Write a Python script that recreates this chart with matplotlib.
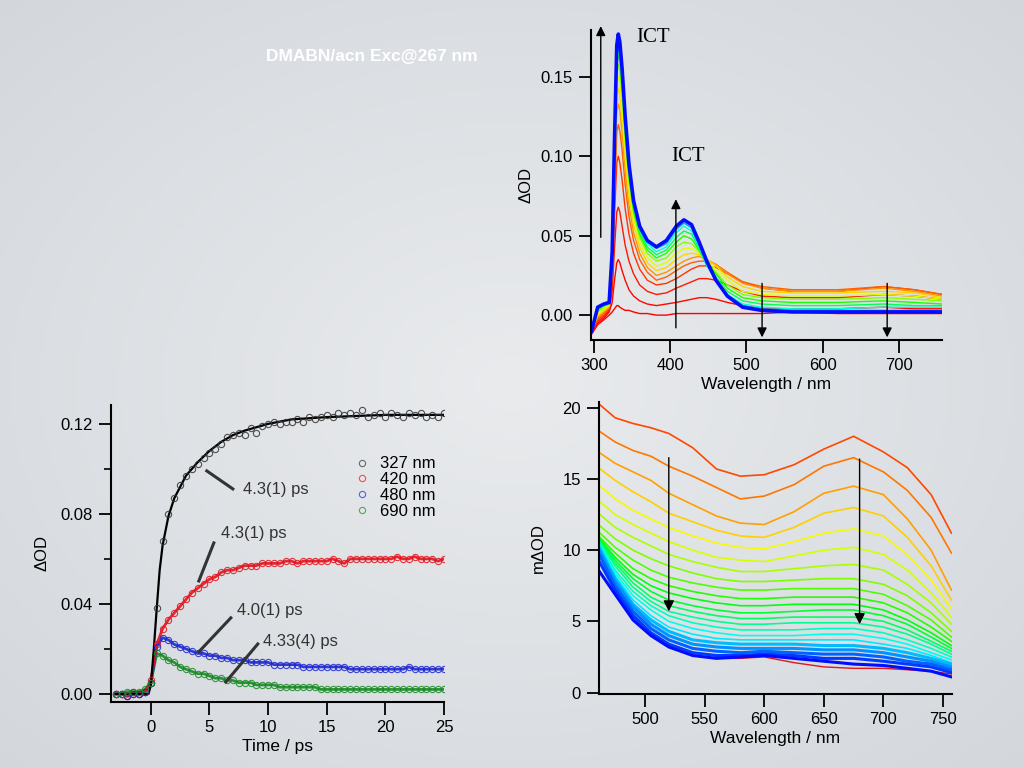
import numpy as np
import matplotlib.pyplot as plt
from matplotlib.colors import LinearSegmentedColormap

plt.rcParams['font.family'] = ['Liberation Sans', 'DejaVu Sans']

# ---- top right: transient spectra (Delta OD) ----
wl_uv = [297, 305, 313, 320, 324, 327, 330, 332, 334, 337, 341, 346, 352, 360, 370, 382,
         395, 408, 418, 428, 438, 448, 460, 475, 495, 520, 560, 620, 680, 720, 757]
spectra_uv = [
    [-0.012, -0.006, -0.003, 0.000, 0.002, 0.004, 0.006, 0.006, 0.005, 0.004, 0.003, 0.003, 0.002,
     0.001, 0.001, 0.000, 0.000, 0.001, 0.001, 0.001, 0.001, 0.001, 0.001, 0.001, 0.001, 0.001,
     0.002, 0.001, 0.001, 0.001, 0.001],
    [-0.011, -0.005, -0.002, 0.002, 0.008, 0.022, 0.033, 0.035, 0.033, 0.028, 0.022, 0.016, 0.012,
     0.009, 0.007, 0.006, 0.007, 0.008, 0.009, 0.010, 0.011, 0.011, 0.010, 0.008, 0.006, 0.004,
     0.004, 0.004, 0.005, 0.004, 0.004],
    [-0.010, -0.004, -0.001, 0.003, 0.015, 0.042, 0.065, 0.068, 0.065, 0.056, 0.044, 0.034, 0.026,
     0.019, 0.015, 0.013, 0.014, 0.017, 0.019, 0.021, 0.023, 0.023, 0.022, 0.019, 0.015, 0.012,
     0.011, 0.011, 0.013, 0.012, 0.010],
    [-0.010, -0.003, 0.000, 0.004, 0.022, 0.062, 0.096, 0.100, 0.096, 0.085, 0.067, 0.051, 0.039,
     0.029, 0.022, 0.019, 0.020, 0.023, 0.026, 0.029, 0.031, 0.031, 0.030, 0.026, 0.021, 0.017,
     0.015, 0.015, 0.018, 0.016, 0.013],
    [-0.010, -0.002, 0.001, 0.005, 0.027, 0.074, 0.115, 0.120, 0.116, 0.104, 0.082, 0.062, 0.047,
     0.035, 0.027, 0.022, 0.024, 0.028, 0.031, 0.033, 0.034, 0.034, 0.032, 0.027, 0.021, 0.018,
     0.016, 0.016, 0.018, 0.016, 0.013],
    [-0.010, -0.001, 0.002, 0.005, 0.030, 0.082, 0.128, 0.133, 0.129, 0.115, 0.091, 0.069, 0.052,
     0.039, 0.030, 0.025, 0.027, 0.031, 0.034, 0.036, 0.037, 0.035, 0.032, 0.026, 0.020, 0.017,
     0.015, 0.015, 0.017, 0.015, 0.012],
    [-0.010, 0.000, 0.003, 0.006, 0.032, 0.089, 0.137, 0.143, 0.139, 0.124, 0.099, 0.075, 0.057,
     0.043, 0.033, 0.028, 0.030, 0.035, 0.038, 0.039, 0.038, 0.035, 0.031, 0.024, 0.018, 0.015,
     0.014, 0.014, 0.015, 0.014, 0.011],
    [-0.010, 0.001, 0.004, 0.006, 0.034, 0.094, 0.145, 0.151, 0.146, 0.131, 0.105, 0.080, 0.061,
     0.046, 0.036, 0.031, 0.033, 0.039, 0.042, 0.042, 0.039, 0.034, 0.029, 0.022, 0.015, 0.013,
     0.012, 0.012, 0.013, 0.012, 0.010],
    [-0.010, 0.002, 0.005, 0.007, 0.036, 0.098, 0.152, 0.158, 0.153, 0.138, 0.110, 0.084, 0.064,
     0.049, 0.039, 0.034, 0.036, 0.043, 0.046, 0.045, 0.040, 0.033, 0.027, 0.019, 0.013, 0.011,
     0.010, 0.010, 0.011, 0.010, 0.009],
    [-0.010, 0.003, 0.006, 0.007, 0.037, 0.102, 0.158, 0.164, 0.159, 0.143, 0.115, 0.087, 0.066,
     0.051, 0.041, 0.036, 0.039, 0.046, 0.050, 0.048, 0.041, 0.032, 0.026, 0.017, 0.011, 0.009,
     0.008, 0.008, 0.009, 0.008, 0.007],
    [-0.010, 0.004, 0.006, 0.008, 0.038, 0.104, 0.162, 0.168, 0.163, 0.147, 0.118, 0.090, 0.068,
     0.053, 0.043, 0.038, 0.041, 0.049, 0.053, 0.051, 0.042, 0.031, 0.024, 0.015, 0.009, 0.007,
     0.006, 0.006, 0.007, 0.006, 0.006],
    [-0.010, 0.004, 0.007, 0.008, 0.039, 0.106, 0.164, 0.171, 0.166, 0.150, 0.120, 0.092, 0.070,
     0.054, 0.045, 0.040, 0.043, 0.052, 0.056, 0.053, 0.043, 0.031, 0.022, 0.013, 0.007, 0.005,
     0.004, 0.004, 0.005, 0.005, 0.005],
    [-0.010, 0.005, 0.007, 0.008, 0.039, 0.108, 0.167, 0.174, 0.169, 0.152, 0.123, 0.094, 0.071,
     0.055, 0.046, 0.042, 0.045, 0.054, 0.058, 0.055, 0.044, 0.032, 0.022, 0.012, 0.006, 0.004,
     0.003, 0.003, 0.003, 0.003, 0.003],
    [-0.010, 0.005, 0.007, 0.008, 0.040, 0.110, 0.170, 0.177, 0.172, 0.155, 0.125, 0.095, 0.072,
     0.056, 0.047, 0.043, 0.047, 0.056, 0.060, 0.057, 0.046, 0.034, 0.022, 0.012, 0.005, 0.003,
     0.002, 0.002, 0.002, 0.002, 0.002],
]

# ---- bottom right: visible spectra (m Delta OD) ----
wl_vis = [461, 475, 490, 505, 520, 540, 560, 580, 600, 625, 650, 675, 700, 720, 740, 757]
spectra_vis = [
    [20.3, 19.3, 18.9, 18.6, 18.2, 17.2, 15.7, 15.2, 15.3, 16.0, 17.1, 18.0, 16.9, 15.8, 13.9, 11.2],
    [18.4, 17.6, 17.0, 16.6, 15.9, 15.2, 14.4, 13.6, 13.8, 14.6, 15.9, 16.5, 15.5, 14.2, 12.3, 9.8],
    [16.9, 16.1, 15.5, 14.9, 14.0, 13.2, 12.4, 11.9, 11.8, 12.7, 14.0, 14.5, 13.9, 12.2, 10.0, 7.2],
    [15.8, 14.9, 14.1, 13.4, 12.6, 12.0, 11.4, 11.0, 10.9, 11.6, 12.6, 13.0, 12.4, 10.9, 8.9, 6.5],
    [14.6, 13.6, 12.8, 12.2, 11.6, 11.0, 10.5, 10.2, 10.1, 10.6, 11.2, 11.5, 11.0, 9.7, 7.9, 5.9],
    [13.5, 12.5, 11.8, 11.2, 10.6, 10.0, 9.5, 9.3, 9.2, 9.6, 10.0, 10.2, 9.7, 8.6, 7.0, 5.3],
    [12.6, 11.6, 10.9, 10.3, 9.7, 9.2, 8.8, 8.5, 8.5, 8.7, 8.9, 9.0, 8.6, 7.6, 6.3, 4.8],
    [11.8, 10.8, 10.0, 9.4, 8.9, 8.4, 8.0, 7.8, 7.8, 7.9, 8.0, 8.0, 7.6, 6.8, 5.6, 4.3],
    [11.3, 10.2, 9.3, 8.6, 8.1, 7.7, 7.4, 7.2, 7.2, 7.3, 7.3, 7.3, 6.9, 6.1, 5.1, 3.9],
    [11.0, 9.8, 8.7, 8.0, 7.5, 7.1, 6.8, 6.6, 6.6, 6.7, 6.7, 6.7, 6.3, 5.6, 4.6, 3.6],
    [10.9, 9.5, 8.3, 7.5, 7.0, 6.6, 6.3, 6.1, 6.1, 6.2, 6.2, 6.2, 5.8, 5.1, 4.2, 3.3],
    [10.8, 9.3, 8.0, 7.1, 6.5, 6.1, 5.8, 5.6, 5.6, 5.7, 5.8, 5.8, 5.4, 4.8, 3.9, 3.1],
    [10.8, 9.1, 7.7, 6.7, 6.1, 5.7, 5.4, 5.2, 5.2, 5.3, 5.3, 5.3, 5.0, 4.4, 3.6, 2.9],
    [10.7, 8.9, 7.4, 6.4, 5.7, 5.3, 5.0, 4.8, 4.8, 4.9, 4.9, 4.9, 4.6, 4.1, 3.4, 2.7],
    [10.6, 8.6, 7.1, 6.1, 5.4, 4.9, 4.6, 4.4, 4.4, 4.4, 4.5, 4.5, 4.2, 3.7, 3.1, 2.5],
    [10.5, 8.4, 6.8, 5.8, 5.0, 4.5, 4.2, 4.0, 4.0, 4.0, 4.1, 4.1, 3.8, 3.4, 2.8, 2.3],
    [10.4, 8.2, 6.5, 5.4, 4.6, 4.1, 3.8, 3.7, 3.7, 3.7, 3.7, 3.7, 3.4, 3.1, 2.6, 2.1],
    [10.3, 8.0, 6.2, 5.1, 4.3, 3.7, 3.5, 3.4, 3.4, 3.4, 3.3, 3.3, 3.1, 2.8, 2.4, 2.0],
    [10.1, 7.8, 6.0, 4.8, 4.0, 3.4, 3.2, 3.1, 3.1, 3.1, 3.0, 3.0, 2.8, 2.5, 2.2, 1.8],
    [9.8, 7.5, 5.7, 4.5, 3.7, 3.1, 2.9, 2.8, 2.9, 2.8, 2.7, 2.7, 2.5, 2.2, 2.0, 1.6],
    [9.3, 7.2, 5.4, 4.2, 3.4, 2.8, 2.6, 2.6, 2.7, 2.6, 2.4, 2.4, 2.2, 2.0, 1.8, 1.4],
    [8.6, 6.9, 5.1, 4.0, 3.2, 2.6, 2.4, 2.5, 2.6, 2.4, 2.2, 2.0, 1.9, 1.7, 1.5, 1.1],
]
spectrum_vis_first = [10.0, 7.3, 5.4, 4.2, 3.3, 2.6, 2.4, 2.4, 2.5, 2.1, 1.8, 1.7, 1.7, 1.6, 1.5, 1.3]

# ---- bottom left: kinetics ----
t_kin = np.arange(-3, 25.5, 0.5)
od_327 = [0.000, 0.000, -0.001, 0.001, 0.000, 0.001, 0.005, 0.038, 0.068, 0.080, 0.087, 0.093,
          0.097, 0.100, 0.102, 0.105, 0.107, 0.109, 0.111, 0.114, 0.115, 0.116, 0.115, 0.118,
          0.116, 0.119, 0.120, 0.121, 0.120, 0.121, 0.121, 0.122, 0.121, 0.123, 0.122, 0.123,
          0.124, 0.123, 0.125, 0.124, 0.125, 0.124, 0.126, 0.123, 0.124, 0.125, 0.123, 0.125,
          0.124, 0.123, 0.125, 0.124, 0.125, 0.123, 0.124, 0.123, 0.125]
od_420 = [0.000, 0.000, -0.001, 0.000, 0.000, 0.001, 0.006, 0.022, 0.029, 0.033, 0.036, 0.039,
          0.042, 0.045, 0.047, 0.049, 0.051, 0.052, 0.054, 0.055, 0.055, 0.056, 0.057, 0.057,
          0.057, 0.058, 0.058, 0.058, 0.058, 0.059, 0.059, 0.058, 0.059, 0.059, 0.059, 0.059,
          0.059, 0.060, 0.059, 0.058, 0.060, 0.060, 0.060, 0.060, 0.060, 0.060, 0.060, 0.060,
          0.061, 0.060, 0.060, 0.061, 0.060, 0.060, 0.060, 0.059, 0.060]
od_480 = [0.000, 0.000, -0.001, 0.000, 0.000, 0.001, 0.005, 0.021, 0.025, 0.024, 0.022, 0.021,
          0.020, 0.019, 0.018, 0.018, 0.017, 0.017, 0.016, 0.016, 0.015, 0.015, 0.015, 0.014,
          0.014, 0.014, 0.014, 0.013, 0.013, 0.013, 0.013, 0.013, 0.012, 0.012, 0.012, 0.012,
          0.012, 0.012, 0.012, 0.012, 0.011, 0.011, 0.011, 0.011, 0.011, 0.011, 0.011, 0.011,
          0.011, 0.011, 0.012, 0.011, 0.011, 0.011, 0.011, 0.011, 0.011]
od_690 = [0.000, 0.000, 0.001, 0.001, 0.001, 0.002, 0.005, 0.018, 0.017, 0.015, 0.014, 0.012,
          0.011, 0.010, 0.009, 0.009, 0.008, 0.007, 0.007, 0.006, 0.006, 0.005, 0.005, 0.005,
          0.004, 0.004, 0.004, 0.004, 0.003, 0.003, 0.003, 0.003, 0.003, 0.003, 0.003, 0.002,
          0.002, 0.002, 0.002, 0.002, 0.002, 0.002, 0.002, 0.002, 0.002, 0.002, 0.002, 0.002,
          0.002, 0.002, 0.002, 0.002, 0.002, 0.002, 0.002, 0.002, 0.002]
t_fit = [-3, -0.2, 0, 0.25, 0.5, 0.75, 1, 1.5, 2, 3, 4, 5, 6, 7, 8, 10, 12, 15, 20, 25]
fit_327 = [0.000, 0.000, 0.004, 0.020, 0.038, 0.055, 0.066, 0.079, 0.087, 0.097, 0.103, 0.108,
           0.112, 0.115, 0.117, 0.120, 0.122, 0.123, 0.124, 0.124]
kin_labels = ["327 nm", "420 nm", "480 nm", "690 nm"]
kin_colors = ["#333333", "#e3141e", "#1e28d2", "#188a24"]
tau_labels = ["4.3(1) ps", "4.3(1) ps", "4.0(1) ps", "4.33(4) ps"]

FS = 12


def style(ax):
    for s in ("top", "right"):
        ax.spines[s].set_visible(False)
    for s in ("left", "bottom"):
        ax.spines[s].set_linewidth(1.5)
    ax.set_facecolor("none")
    ax.tick_params(direction="out", length=9, width=1.3, labelsize=FS, pad=4)


fig = plt.figure(figsize=(10.24, 7.68), dpi=100)
fig.patch.set_facecolor("#dfe2e6")

# soft slide background
bg = fig.add_axes([0, 0, 1, 1], zorder=-10)
yy, xx = np.mgrid[-1:1:200j, -1:1:200j]
bg_cmap = LinearSegmentedColormap.from_list("bg", ["#e9ebed", "#d3d7dc"])
bg.imshow(np.hypot(xx, yy), cmap=bg_cmap, aspect="auto", extent=[0, 1, 0, 1], vmin=0, vmax=1.45)
bg.axis("off")

fig.text(0.363, 0.927, "DMABN/acn Exc@267 nm", color="white", fontsize=12.5,
         fontweight="bold", ha="center", va="center")

# top right panel
ax1 = fig.add_axes([0.577, 0.557, 0.343, 0.404])
hues = (np.linspace(0, 1, len(spectra_uv)) ** 2) * 0.67
for i, row in enumerate(spectra_uv):
    lw = 2.6 if i == len(spectra_uv) - 1 else 1.0
    ax1.plot(wl_uv, row, color=plt.cm.hsv(hues[i]), lw=lw)
ax1.set_xlim(296, 756.5)
ax1.set_ylim(-0.0158, 0.1796)
ax1.set_xticks([300, 400, 500, 600, 700])
ax1.set_yticks([0.00, 0.05, 0.10, 0.15])
ax1.set_yticklabels(["0.00", "0.05", "0.10", "0.15"])
ax1.set_xlabel("Wavelength / nm", fontsize=12.5, labelpad=3)
ax1.set_ylabel("ΔOD", fontsize=12, labelpad=5)
style(ax1)
arrows_uv = [(309, 0.049, 0.182), (407.5, -0.008, 0.073), (520.5, 0.020, -0.014), (684.5, 0.020, -0.014)]
for x, y0, y1 in arrows_uv:
    ax1.annotate("", xy=(x, y1), xytext=(x, y0), annotation_clip=False,
                 arrowprops=dict(arrowstyle="-|>", color="black", lw=1.0,
                                 mutation_scale=14, shrinkA=0, shrinkB=0))
fig.text(0.621, 0.951, "ICT", family=["Liberation Serif"], fontsize=15, va="center")
fig.text(0.656, 0.796, "ICT", family=["Liberation Serif"], fontsize=15, va="center")

# bottom left panel
ax2 = fig.add_axes([0.1084, 0.0859, 0.3252, 0.3868])
kin_series = [od_327, od_420, od_480, od_690]
for vals, c in zip(kin_series[1:][::-1], kin_colors[1:][::-1]):
    ax2.plot(t_kin, vals, color=c, lw=2.0, alpha=0.9)
ax2.plot(t_fit, fit_327, color="black", lw=1.6)
for vals, c, lab in zip(kin_series, kin_colors, kin_labels):
    ax2.plot(t_kin, vals, ls="none", marker="o", ms=4.5, mfc="none", mec=c, mew=0.8,
             alpha=0.85, label=lab)
ax2.set_xlim(-3.4, 25)
ax2.set_ylim(-0.0036, 0.1284)
ax2.set_xticks([0, 5, 10, 15, 20, 25])
ax2.set_yticks([0.00, 0.04, 0.08, 0.12])
ax2.set_yticklabels(["0.00", "0.04", "0.08", "0.12"])
ax2.set_yticks([0.02, 0.06, 0.10], minor=True)
ax2.set_xlabel("Time / ps", fontsize=12.5, labelpad=3)
ax2.set_ylabel("ΔOD", fontsize=12, labelpad=8)
style(ax2)
ax2.tick_params(axis="y", which="minor", length=5, width=1.2)
leg = ax2.legend(loc="upper right", bbox_to_anchor=(1.0, 0.855), frameon=False, fontsize=FS,
                 handlelength=0.8, handletextpad=0.7, labelspacing=0.05, borderpad=0)
for h in leg.legend_handles:
    h.set_alpha(0.7)
tau_lines = [((4.77, 0.0991), (6.99, 0.0911)), ((5.37, 0.0671), (4.09, 0.0502)),
             ((6.82, 0.0338), (4.09, 0.0187)), ((9.12, 0.0222), (6.39, 0.0053))]
tau_text = [(7.84, 0.0907), (5.97, 0.0711), (7.33, 0.0369), (9.55, 0.0231)]
for (p0, p1), (tx, ty), lab in zip(tau_lines, tau_text, tau_labels):
    ax2.plot([p0[0], p1[0]], [p0[1], p1[1]], color="#333333", lw=2.2)
    ax2.text(tx, ty, lab, fontsize=FS, color="#333333", va="center")

# bottom right panel
ax3 = fig.add_axes([0.585, 0.0964, 0.3447, 0.380])
ax3.plot(wl_vis, spectrum_vis_first, color="#e01818", lw=1.0)
hues3 = np.linspace(0.05, 0.67, len(spectra_vis))
for i, row in enumerate(spectra_vis):
    ax3.plot(wl_vis, row, color=plt.cm.hsv(hues3[i]), lw=1.2 if i < 17 else 2.2)
ax3.set_xlim(461.5, 757.5)
ax3.set_ylim(-0.1, 20.4)
ax3.set_xticks([500, 550, 600, 650, 700, 750])
ax3.set_yticks([0, 5, 10, 15, 20])
ax3.set_xlabel("Wavelength / nm", fontsize=12.5, labelpad=3)
ax3.set_ylabel("mΔOD", fontsize=12, labelpad=12)
style(ax3)
arrows_vis = [(520, 16.5, 5.7), (680, 16.4, 4.8)]
for x, y0, y1 in arrows_vis:
    ax3.annotate("", xy=(x, y1), xytext=(x, y0),
                 arrowprops=dict(arrowstyle="-|>", color="black", lw=1.0,
                                 mutation_scale=16, shrinkA=0, shrinkB=0))

fig.savefig("out.png", dpi=100, facecolor=fig.get_facecolor())
